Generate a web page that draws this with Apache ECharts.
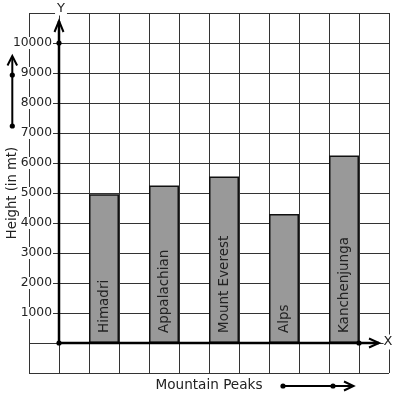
<!DOCTYPE html>
<html><head><meta charset="utf-8">
<script src="https://cdn.jsdelivr.net/npm/echarts@6/dist/echarts.min.js"></script>
<style>html,body{margin:0;padding:0;background:#fff}#c{width:397px;height:399px}</style>
</head><body><div id="c"></div>
<script>
// ---- data ----
const peaks = ['Himadri', 'Appalachian', 'Mount Everest', 'Alps', 'Kanchenjunga'];
const heights = [4960, 5250, 5550, 4300, 6250];
const yTickLabels = [1000, 2000, 3000, 4000, 5000, 6000, 7000, 8000, 9000, 10000];
const yMin = -1000, yMax = 11000, yStep = 1000;
const xTitle = 'Mountain Peaks';
const yTitle = 'Height (in mt)';

// grid slots: two leading slots, then each peak followed by an empty slot
const slots = ['pad0', 'pad1'];
const slotValues = ['-', '-'];
peaks.forEach((p, i) => { slots.push(p); slotValues.push(heights[i]); slots.push('gap' + i); slotValues.push('-'); });

const FONT = 'DejaVu Sans';
const INK = '#222';
const chart = echarts.init(document.getElementById('c'), null, {renderer: 'canvas'});
chart.setOption({
  animation: false,
  backgroundColor: '#fff',
  textStyle: {fontFamily: FONT},
  grid: {left: 29, top: 13, width: 360, height: 360, containLabel: false, outerBoundsMode: 'none'},
  xAxis: {
    type: 'category', data: slots, boundaryGap: true,
    axisLine: {show: false, onZero: false}, axisTick: {show: false}, axisLabel: {show: false},
    splitLine: {show: true, interval: 0, lineStyle: {color: '#333', width: 1}},
    name: xTitle, nameLocation: 'middle', nameGap: 5, nameMoveOverlap: false,
    nameTextStyle: {fontFamily: FONT, fontSize: 13.6, color: INK}
  },
  yAxis: {
    type: 'value', min: yMin, max: yMax, interval: yStep,
    axisLine: {show: false, onZero: false}, axisTick: {show: false},
    splitLine: {show: true, lineStyle: {color: '#333', width: 1}},
    axisLabel: {
      margin: -24, fontFamily: FONT, fontSize: 12.3, color: INK,
      backgroundColor: '#fff', padding: [0, 1],
      formatter: v => yTickLabels.indexOf(v) >= 0 ? String(v) : ''
    },
    name: yTitle, nameLocation: 'middle', nameRotate: 90, nameGap: 10, nameMoveOverlap: false,
    nameTextStyle: {fontFamily: FONT, fontSize: 13.2, color: INK}
  },
  series: [{
    type: 'bar', data: slotValues, barWidth: '100%',
    itemStyle: {color: '#999999', borderColor: '#111', borderWidth: 1.5},
    label: {
      show: true, position: 'insideBottom', distance: 10, rotate: 90,
      align: 'left', verticalAlign: 'middle',
      formatter: p => p.name, fontFamily: FONT, fontSize: 13.5, color: INK
    },
    z: 3
  }]
});

// ---- decorations computed from the axes ----
const c0 = chart.convertToPixel({xAxisIndex: 0, yAxisIndex: 0}, [0, 0]);
const c1 = chart.convertToPixel({xAxisIndex: 0, yAxisIndex: 0}, [1, 0]);
const cLast = chart.convertToPixel({xAxisIndex: 0, yAxisIndex: 0}, [slots.length - 1, 0]);
const slotW = c1[0] - c0[0];
const ox = (c0[0] + c1[0]) / 2;         // y-axis position (between slot 0 and 1)
const oy = c0[1];                        // y = 0
const y10k = chart.convertToPixel({yAxisIndex: 0}, 10000);
const yTop = chart.convertToPixel({yAxisIndex: 0}, yMax);
const x10 = cLast[0] - slotW / 2;        // tenth cell boundary
const xRight = cLast[0] + slotW / 2;
const LW = 2.5;
const blk = '#000';
function line(x1, y1, x2, y2, w) { return {type: 'line', shape: {x1, y1, x2, y2}, style: {stroke: blk, lineWidth: w}, z: 10}; }
function chev(pts, w) { return {type: 'polyline', shape: {points: pts}, style: {stroke: blk, lineWidth: w, fill: null}, z: 10}; }
function dot(x, y) { return {type: 'circle', shape: {cx: x, cy: y, r: 2.6}, style: {fill: blk}, z: 11}; }
const g = [
  // y axis
  line(ox, oy, ox, yTop + 8, LW),
  chev([[ox - 4.5, yTop + 19], [ox, yTop + 8], [ox + 4.5, yTop + 19]], 2),
  dot(ox, y10k), dot(ox, oy),
  // x axis
  line(ox, oy, xRight - 10, oy, LW),
  chev([[xRight - 20, oy - 4.5], [xRight - 10, oy], [xRight - 20, oy + 4.5]], 2),
  dot(x10, oy),
  {type: 'text', x: ox + 2, y: yTop - 4, style: {text: 'Y', font: '13px "DejaVu Sans"', fill: INK, align: 'center', verticalAlign: 'middle', backgroundColor: '#fff', padding: [0, 2]}, z: 12},
  {type: 'text', x: xRight - 1, y: oy - 1, style: {text: 'X', font: '13px "DejaVu Sans"', fill: INK, align: 'center', verticalAlign: 'middle', backgroundColor: '#fff', padding: [1, 0]}, z: 12},
  // side arrow (up)
  line(12.3, 57, 12.3, 126, 2),
  chev([[7.5, 65.5], [12.3, 56], [17.1, 65.5]], 2),
  dot(12.3, 75), dot(12.3, 126),
  // bottom arrow (right)
  line(283, 386, 353, 386, 2),
  chev([[344, 381.5], [353.5, 386], [344, 390.5]], 2),
  dot(283, 386), dot(333, 386)
];
chart.setOption({graphic: g});
</script>
</body></html>
